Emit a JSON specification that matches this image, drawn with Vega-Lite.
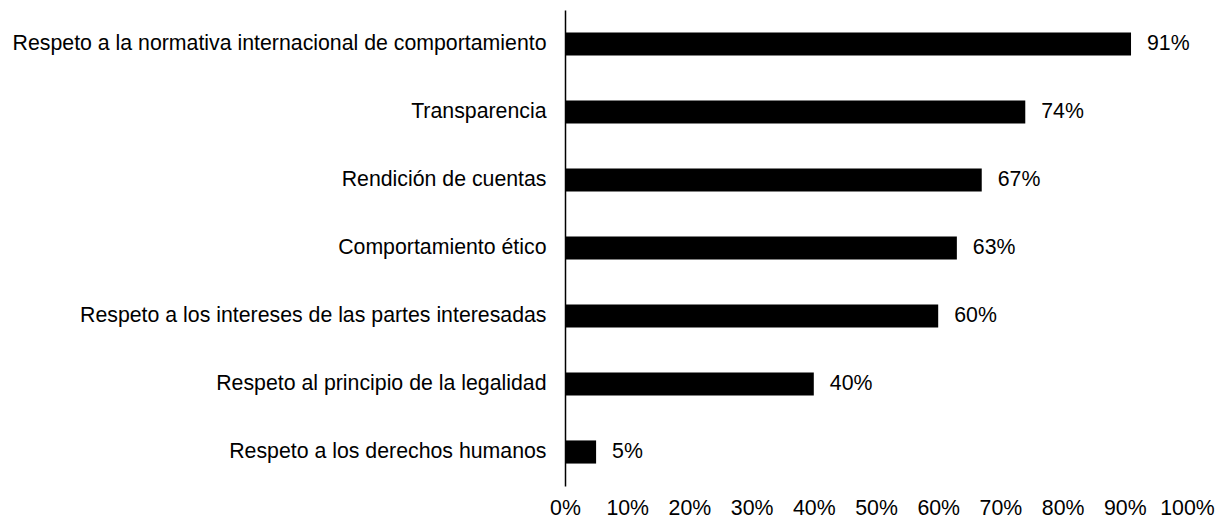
{
  "$schema": "https://vega.github.io/schema/vega-lite/v6.json",
  "autosize": {"type": "none"},
  "padding": {"left": 565, "top": 10, "right": 30, "bottom": 32},
  "width": 622,
  "height": 476,
  "background": "white",
  "config": {"view": {"stroke": null}, "font": "Liberation Sans"},
  "data": {"values": [
    {"categoria": "Respeto a la normativa internacional de comportamiento", "valor": 0.91},
    {"categoria": "Transparencia", "valor": 0.74},
    {"categoria": "Rendición de cuentas", "valor": 0.67},
    {"categoria": "Comportamiento ético", "valor": 0.63},
    {"categoria": "Respeto a los intereses de las partes interesadas", "valor": 0.60},
    {"categoria": "Respeto al principio de la legalidad", "valor": 0.40},
    {"categoria": "Respeto a los derechos humanos", "valor": 0.05}
  ]},
  "encoding": {
    "y": {"field": "categoria", "type": "nominal", "sort": null,
      "scale": {"paddingInner": 0.66, "paddingOuter": 0.33},
      "axis": {"title": null, "ticks": false, "labelFontSize": 21.3, "labelColor": "#000", "labelPadding": 19, "domainColor": "#000", "domainWidth": 1.5, "labelLimit": 700}},
    "x": {"field": "valor", "type": "quantitative",
      "scale": {"domain": [0, 1], "nice": false},
      "axis": {"title": null, "format": ".0%", "values": [0,0.1,0.2,0.3,0.4,0.5,0.6,0.7,0.8,0.9,1], "ticks": false, "domain": false, "grid": false, "labelFontSize": 21.3, "labelColor": "#000", "labelPadding": 11, "labelFlush": false}}
  },
  "layer": [
    {"mark": {"type": "bar", "color": "#000"}},
    {"mark": {"type": "text", "align": "left", "dx": 16, "fontSize": 21.3, "color": "#000"},
      "encoding": {"text": {"field": "valor", "type": "quantitative", "format": ".0%"}}}
  ]
}
